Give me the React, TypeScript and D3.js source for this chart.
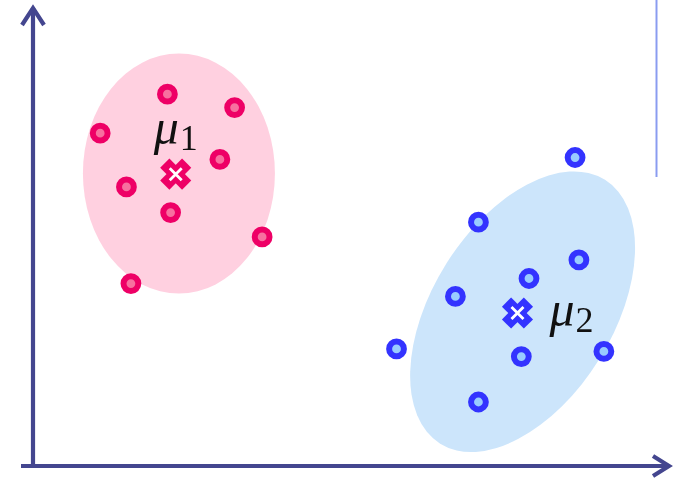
import React from "react";
import * as d3 from "d3";

const WIDTH = 677;
const HEIGHT = 480;

// Cluster 1 samples (x, y)
const clusterOneX = [21.0, 31.5, 10.5, 29.2, 14.6, 21.5, 35.8, 15.3];
const clusterOneY = [58.1, 56.0, 52.0, 47.9, 43.6, 39.6, 35.8, 28.5];
// Cluster 2 samples (x, y)
const clusterTwoX = [84.7, 69.6, 85.3, 77.5, 66.0, 56.8, 76.3, 89.2, 69.6];
const clusterTwoY = [48.2, 38.1, 32.2, 29.3, 26.5, 18.3, 17.1, 17.9, 10.0];

// Cluster means
const meanOne = [22.3, 45.6];
const meanTwo = [75.7, 23.9];

// Covariance ellipses: centre x, centre y, semi-axis a, semi-axis b, angle (deg)
const ellipseOne = [22.8, 45.7, 15.0, 18.75, 0];
const ellipseTwo = [76.5, 24.1, 24.3, 14.1, 58];

const x = d3.scaleLinear().domain([0, 100]).range([33, 673]);
const y = d3.scaleLinear().domain([0, 70]).range([466, 18]);
const len = (v: number) => x(v) - x(0);

const PINK = "#ee0066";
const PINK_FILL = "#f7709f";
const BLUE = "#3333ff";
const BLUE_FILL = "#99ccff";
const AXIS = "#44468f";

function Ellipse({ e, fill }: { e: number[]; fill: string }) {
  const [cx, cy, a, b, ang] = e;
  return (
    <ellipse
      transform={`translate(${x(cx)},${y(cy)}) rotate(${-ang})`}
      rx={len(a)}
      ry={len(b)}
      fill={fill}
    />
  );
}

function Cross({ p, color }: { p: number[]; color: string }) {
  const L = 31;
  const w = 13;
  const d = 6;
  return (
    <g transform={`translate(${x(p[0])},${y(p[1])})`}>
      <rect x={-L / 2} y={-w / 2} width={L} height={w} fill={color} transform="rotate(45)" />
      <rect x={-L / 2} y={-w / 2} width={L} height={w} fill={color} transform="rotate(-45)" />
      <path d={`M${-d},${-d}L${d},${d}M${-d},${d}L${d},${-d}`} stroke="#fff" strokeWidth={2.8} />
    </g>
  );
}

function Points({ xs, ys, stroke, fill }: { xs: number[]; ys: number[]; stroke: string; fill: string }) {
  return (
    <g>
      {xs.map((v, i) => (
        <circle key={i} cx={x(v)} cy={y(ys[i])} r={7.4} fill={fill} stroke={stroke} strokeWidth={6} />
      ))}
    </g>
  );
}

function MuLabel({ px, py, sub }: { px: number; py: number; sub: string }) {
  return (
    <text x={px} y={py} fontFamily="'Liberation Serif', serif" fill="#111" style={{ filter: "blur(0.3px)" }}>
      <tspan fontStyle="italic" fontSize={50}>μ</tspan>
      <tspan fontSize={36} dy={6} dx={1}>{sub}</tspan>
    </text>
  );
}

export default function App() {
  const x0 = x(0);
  const y0 = y(0);
  const xEnd = 671;
  const yTop = 6;
  return (
    <svg width={WIDTH} height={HEIGHT} style={{ position: "absolute", left: 0, top: 0, background: "#fff" }}>
      <Ellipse e={ellipseOne} fill="#ffd0e0" />
      <Ellipse e={ellipseTwo} fill="#cce5fb" />

      {/* thin guide line */}
      <line x1={656.5} y1={0} x2={656.5} y2={177} stroke="#8a9cf0" strokeWidth={2} />

      {/* axes */}
      <line x1={x0} y1={y0 + 2} x2={x0} y2={yTop + 2} stroke={AXIS} strokeWidth={4.2} />
      <path
        d={`M${x0 - 11},${yTop + 19}L${x0},${yTop + 2}L${x0 + 11},${yTop + 19}`}
        fill="none"
        stroke={AXIS}
        strokeWidth={4.2}
      />
      <line x1={21} y1={y0} x2={xEnd - 2} y2={y0} stroke={AXIS} strokeWidth={4.2} />
      <path
        d={`M${xEnd - 18},${y0 - 10}L${xEnd - 2},${y0}L${xEnd - 18},${y0 + 10}`}
        fill="none"
        stroke={AXIS}
        strokeWidth={4.2}
      />

      <Points xs={clusterOneX} ys={clusterOneY} stroke={PINK} fill={PINK_FILL} />
      <Points xs={clusterTwoX} ys={clusterTwoY} stroke={BLUE} fill={BLUE_FILL} />

      <Cross p={meanOne} color={PINK} />
      <Cross p={meanTwo} color={BLUE} />

      <MuLabel px={x(meanOne[0]) - 22} py={y(meanOne[1]) - 30} sub="1" />
      <MuLabel px={x(meanTwo[0]) + 32} py={y(meanTwo[1]) + 13} sub="2" />
    </svg>
  );
}
